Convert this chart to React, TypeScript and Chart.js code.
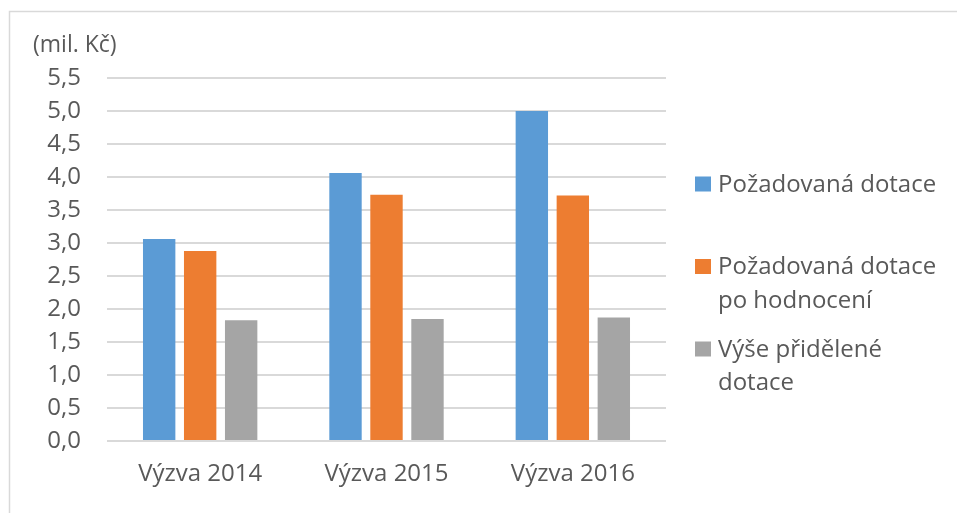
import React, { useEffect, useRef } from "react";
import { Chart, registerables } from "chart.js";

Chart.register(...registerables);

const categories = ["Výzva 2014", "Výzva 2015", "Výzva 2016"];
const seriesNames = ["Požadovaná dotace", "Požadovaná dotace po hodnocení", "Výše přidělené dotace"];
const requested = [3.06, 4.06, 5.0];
const afterEvaluation = [2.88, 3.73, 3.72];
const granted = [1.83, 1.85, 1.87];
const seriesColors = ["#5B9BD5", "#ED7D31", "#A5A5A5"];
const yUnit = "(mil. Kč)";
const yMin = 0;
const yMax = 5.5;
const yStep = 0.5;

const FONT = "'Open Sans', 'Noto Sans', sans-serif";
const TEXT = "#595959";
const GRID = "#d9d9d9";

const decorPlugin = {
  id: "decor",
  beforeDraw(chart: any) {
    const ctx = chart.ctx;
    ctx.save();
    ctx.strokeStyle = GRID;
    ctx.lineWidth = 1.5;
    ctx.beginPath();
    ctx.moveTo(9.5, chart.height);
    ctx.lineTo(9.5, 11.5);
    ctx.lineTo(chart.width, 11.5);
    ctx.stroke();
    ctx.restore();
  },
  afterDraw(chart: any) {
    const ctx = chart.ctx;
    ctx.save();
    ctx.font = `23px ${FONT}`;
    ctx.fillStyle = TEXT;
    ctx.textBaseline = "middle";
    ctx.textAlign = "left";
    ctx.fillText(yUnit, 33, 45);

    // legend
    ctx.font = `24px ${FONT}`;
    const boxX = 695;
    const textX = 718;
    const maxW = 235;
    const lineH = 33.5;
    let y = 184;
    chart.data.datasets.forEach((ds: any) => {
      const words = String(ds.label).split(" ");
      const lines: string[] = [];
      let cur = "";
      words.forEach((w) => {
        const t = cur ? cur + " " + w : w;
        if (cur && ctx.measureText(t).width > maxW) {
          lines.push(cur);
          cur = w;
        } else cur = t;
      });
      if (cur) lines.push(cur);
      ctx.fillStyle = ds.backgroundColor;
      ctx.fillRect(boxX, y - 7.5, 16, 15);
      ctx.fillStyle = TEXT;
      lines.forEach((ln, i) => ctx.fillText(ln, textX, y + 1 + i * lineH));
      y += 82.5;
    });
    ctx.restore();
  },
};

export default function App() {
  const ref = useRef<HTMLCanvasElement>(null);
  useEffect(() => {
    if (!ref.current) return;
    const values = [requested, afterEvaluation, granted];
    const chart = new Chart(ref.current, {
      type: "bar",
      data: {
        labels: categories,
        datasets: seriesNames.map((name, i) => ({
          label: name,
          data: values[i],
          backgroundColor: seriesColors[i],
          categoryPercentage: 0.66,
          barPercentage: 0.79,
        })),
      },
      options: {
        animation: false,
        responsive: false,
        maintainAspectRatio: false,
        layout: { padding: { left: 0, right: 291, top: 78, bottom: 0 } },
        plugins: { legend: { display: false }, tooltip: { enabled: false }, title: { display: false } },
        scales: {
          x: {
            grid: { display: false },
            border: { display: false },
            ticks: { color: TEXT, font: { family: FONT, size: 24 }, padding: 11 },
            afterFit: (s: any) => { s.height = 72; },
          },
          y: {
            min: yMin,
            max: yMax,
            grid: { color: GRID, lineWidth: 2, drawTicks: false },
            border: { display: false },
            ticks: {
              stepSize: yStep,
              color: TEXT,
              padding: 26,
              font: { family: FONT, size: 24 },
              callback: (v: any) => Number(v).toFixed(1).replace(".", ","),
            },
            afterFit: (s: any) => { s.width = 107; },
          },
        },
      },
      plugins: [decorPlugin],
    });
    return () => chart.destroy();
  }, []);
  return (
    <div style={{ position: "fixed", left: 0, top: 0, width: 957, height: 513, background: "#fff" }}>
      <canvas ref={ref} width={957} height={513} style={{ display: "block" }} />
    </div>
  );
}
